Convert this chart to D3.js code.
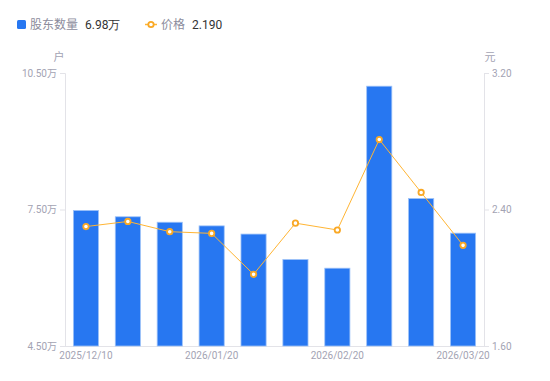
<!DOCTYPE html>
<html><head><meta charset="utf-8">
<script src="https://cdn.jsdelivr.net/npm/d3@7"></script>
<style>body{margin:0;background:#fff;font-family:"Noto Sans CJK SC","Noto Sans",sans-serif;}</style>
</head><body><svg id="c" width="550" height="381"></svg>
<script>
const dates = ["2025/12/10","2025/12/20","2025/12/31","2026/01/20","2026/01/31","2026/02/10","2026/02/20","2026/02/28","2026/03/10","2026/03/20"];
const holders = [7.48,7.34,7.22,7.14,6.96,6.40,6.21,10.21,7.74,6.98];
const prices = [2.30,2.33,2.27,2.26,2.02,2.32,2.28,2.81,2.50,2.19];
const leftTicks = [4.5,7.5,10.5];
const rightTicks = [1.6,2.4,3.2];
const shownDates = ["2025/12/10","2026/01/20","2026/02/20","2026/03/20"];

const svg = d3.select("#c");
const L=65, R=484, T=73, B=346;
const x = d3.scaleBand().domain(dates).range([L,R]).paddingInner(0.4).paddingOuter(0.2);
const yL = d3.scaleLinear().domain([4.5,10.5]).range([B,T]);
const yR = d3.scaleLinear().domain([1.6,3.2]).range([B,T]);
const axisCol="#e3e3e8", txtCol="#a3a3b3";

// axes
const gl = svg.append("g").attr("transform",`translate(${L},0)`)
  .call(d3.axisLeft(yL).tickValues(leftTicks).tickSize(5).tickPadding(3).tickFormat(d=>d3.format(".2f")(d)+"万"));
const gr = svg.append("g").attr("transform",`translate(${R},0)`)
  .call(d3.axisRight(yR).tickValues(rightTicks).tickSize(5).tickPadding(3).tickFormat(d3.format(".2f")));
const gb = svg.append("g").attr("transform",`translate(0,${B})`)
  .call(d3.axisBottom(x).tickValues(shownDates).tickSize(0).tickPadding(6));
[gl,gr,gb].forEach(g=>{
  g.select(".domain").attr("stroke",axisCol);
  g.selectAll(".tick line").attr("stroke",axisCol);
  g.selectAll("text").attr("fill",txtCol).style("font-family","Roboto,'Noto Sans CJK SC',sans-serif").style("font-size","10px");
});
gb.select(".domain").attr("d",`M${L},0.5H${R}`);

// units
svg.append("text").attr("x",59).attr("y",61).attr("text-anchor","middle").attr("fill",txtCol).style("font-size","11px").text("户");
svg.append("text").attr("x",490).attr("y",61).attr("text-anchor","middle").attr("fill",txtCol).style("font-size","11px").text("元");

// bars
svg.append("g").selectAll("rect").data(dates).join("rect")
  .attr("x",d=>x(d)).attr("width",x.bandwidth())
  .attr("y",(d,i)=>yL(holders[i])).attr("height",(d,i)=>B-yL(holders[i]))
  .attr("fill","#2777f1").attr("stroke","#9dc2f8").attr("stroke-width",0.8);

// line
const cx = d=>x(d)+x.bandwidth()/2;
svg.append("path").datum(dates)
  .attr("d",d3.line().x(cx).y((d,i)=>yR(prices[i])))
  .attr("fill","none").attr("stroke","#ffb534").attr("stroke-width",1);
svg.append("g").selectAll("circle").data(dates).join("circle")
  .attr("cx",cx).attr("cy",(d,i)=>yR(prices[i])).attr("r",2.7)
  .attr("fill","#fff").attr("stroke","#f9a825").attr("stroke-width",1.8);

// legend
const lg = svg.append("g").style("font-size","12px");
lg.append("rect").attr("x",17).attr("y",20).attr("width",9).attr("height",9).attr("rx",1.5).attr("fill","#2777f1");
lg.append("text").attr("x",30).attr("y",29).attr("fill","#8c8c9c").text("股东数量");
lg.append("text").attr("x",85).attr("y",29).attr("fill","#333").style("font-family","Roboto,sans-serif").text(holders[holders.length-1].toFixed(2)+"万");
lg.append("line").attr("x1",145).attr("x2",157).attr("y1",24.5).attr("y2",24.5).attr("stroke","#ffb534").attr("stroke-width",1.5);
lg.append("circle").attr("cx",151).attr("cy",24.5).attr("r",2.7).attr("fill","#fff").attr("stroke","#f9a825").attr("stroke-width",1.8);
lg.append("text").attr("x",161).attr("y",29).attr("fill","#8c8c9c").text("价格");
lg.append("text").attr("x",192).attr("y",29).attr("fill","#333").style("font-family","Roboto,sans-serif").text(prices[prices.length-1].toFixed(3));
</script></body></html>
